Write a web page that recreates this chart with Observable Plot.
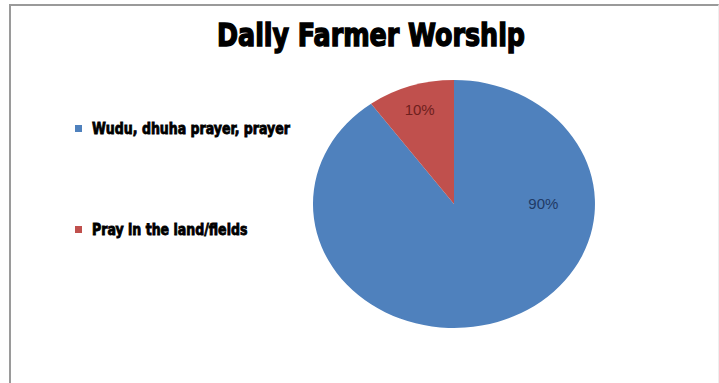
<!DOCTYPE html>
<html><head><meta charset="utf-8">
<script src="https://cdn.jsdelivr.net/npm/d3@7"></script>
<script src="https://cdn.jsdelivr.net/npm/@observablehq/plot@0.6"></script>
<style>
html,body{margin:0;padding:0;background:#fff;width:719px;height:383px;overflow:hidden;}
#frame{position:absolute;left:9px;top:4px;width:710px;height:400px;border-left:2px solid #9a9a9a;border-top:2px solid #9a9a9a;border-right:1px solid #eeeeee;box-sizing:border-box;}
#chart{position:absolute;left:0;top:0;}
#overlay{position:absolute;left:0;top:0;}
</style></head><body>
<div id="frame"></div>
<div id="chart"></div>
<svg id="overlay" width="719" height="383"></svg>
<script>
const title = "Daily Farmer Worship";
const categories = ["Wudu, dhuha prayer, prayer", "Pray in the land/fields"];
const shares = [90, 10];
const sliceColors = ["#4F81BD", "#C0504D"];
const labelColors = ["#1F3A66", "#6E201D"];

const arcs = d3.pie().sort(null).value(d => d)(shares);
const data = arcs.map((a, i) => {
  const span = a.endAngle - a.startAngle;
  const big = span > Math.PI;
  const ang = big ? Math.PI / 2 : (a.startAngle + a.endAngle) / 2;
  const r = big ? 0.63 : 0.8;
  return {
    category: categories[i], value: shares[i], start: a.startAngle, end: a.endAngle,
    label: shares[i] + "%", fill: sliceColors[i], labelColor: labelColors[i],
    lx: Math.sin(ang) * r, ly: Math.cos(ang) * r
  };
});

function pieMark(index, scales) {
  const {x, y} = scales;
  const cx = x(0), cy = y(0), rx = x(1) - x(0), ry = y(-1) - y(0);
  const arc = d3.arc().innerRadius(0).outerRadius(1);
  const g = d3.create("svg:g").attr("transform", `translate(${cx},${cy}) scale(${rx},${ry})`);
  g.selectAll("path").data(data).join("path")
    .attr("d", d => arc({startAngle: d.start, endAngle: d.end}))
    .attr("fill", d => d.fill);
  return g.node();
}

const chart = Plot.plot({
  width: 719, height: 383,
  marginLeft: 313, marginRight: 124, marginTop: 80, marginBottom: 55,
  x: {domain: [-1, 1], axis: null},
  y: {domain: [-1, 1], axis: null},
  color: {type: "identity"},
  style: {background: "transparent", overflow: "visible"},
  marks: [
    pieMark,
    Plot.text(data, {x: "lx", y: "ly", text: "label", fill: "labelColor",
      fontSize: 15, fontFamily: "Liberation Sans, Arial, sans-serif"})
  ]
});
document.getElementById("chart").appendChild(chart);

// Title and legend
const ov = d3.select("#overlay");
const heavy = "'Liberation Sans Narrow','DejaVu Sans Condensed','Liberation Sans',sans-serif";
ov.append("text").attr("x", 217).attr("y", 46).text(title)
  .attr("font-family", heavy).attr("font-weight", "bold").attr("font-size", 32)
  .attr("fill", "#000").attr("stroke", "#000").attr("stroke-width", 1.4)
  .attr("textLength", 308).attr("lengthAdjust", "spacingAndGlyphs");

const leg = ov.append("g");
const items = leg.selectAll("g").data(categories).join("g")
  .attr("transform", (d, i) => `translate(75,${134 + i * 101})`);
items.append("rect").attr("x", 0).attr("y", -9).attr("width", 7).attr("height", 7)
  .attr("fill", (d, i) => sliceColors[i]);
const texts = items.append("text").attr("x", 17).attr("y", 0).text(d => d)
  .attr("font-family", heavy).attr("font-weight", "bold").attr("font-size", 15)
  .attr("fill", "#000").attr("stroke", "#000").attr("stroke-width", 0.8);
const w0 = texts.nodes()[0].getComputedTextLength();
const k = 198 / w0;
texts.each(function() {
  const w = this.getComputedTextLength();
  d3.select(this).attr("textLength", w * k).attr("lengthAdjust", "spacingAndGlyphs");
});
</script>
</body></html>
